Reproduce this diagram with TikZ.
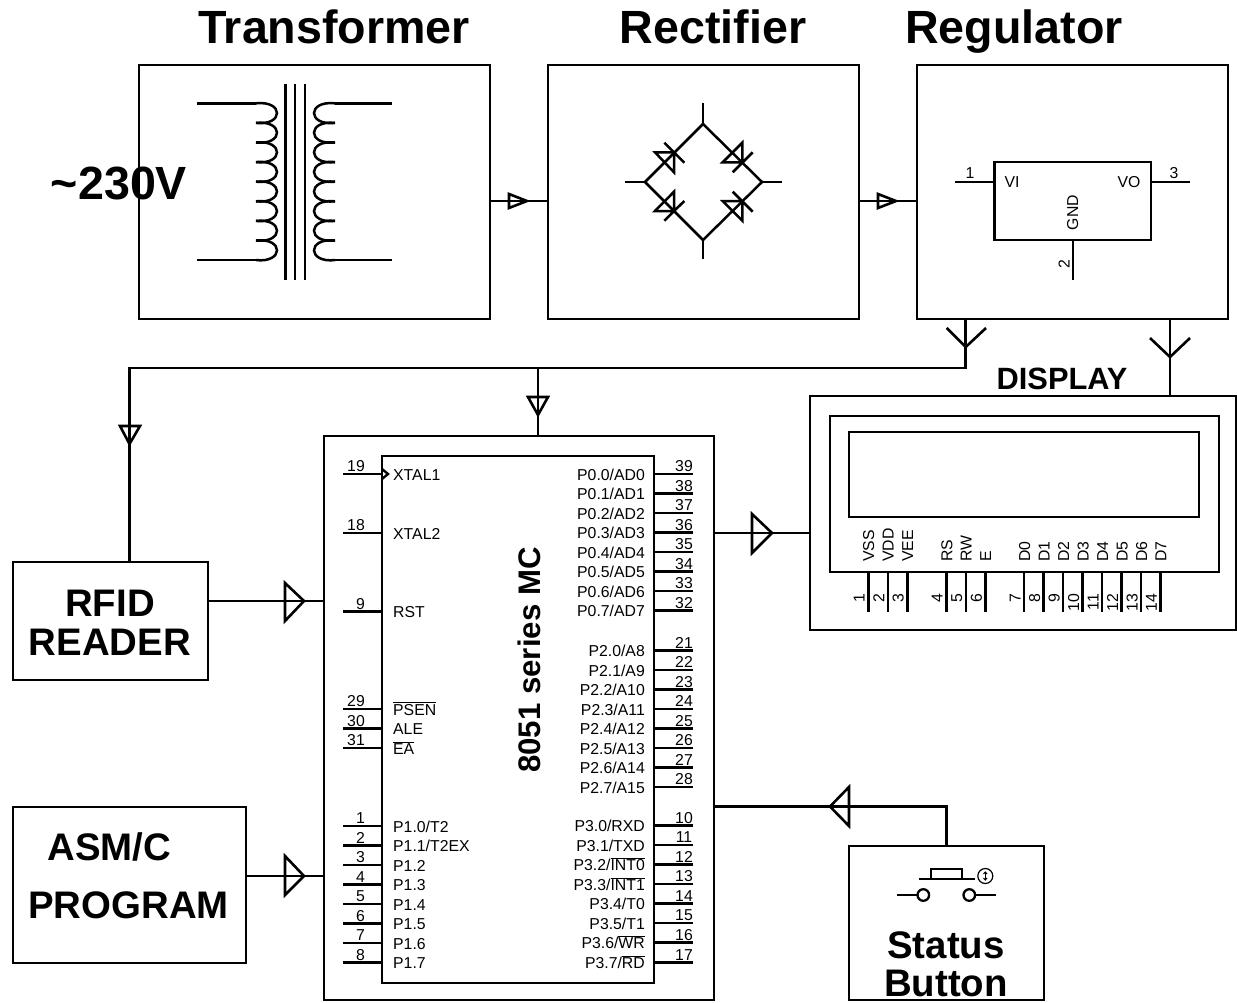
\documentclass[tikz,border=0pt]{standalone}
\usepackage{fontspec}
\setmainfont{Liberation Sans}
\newcommand{\ovl}[1]{$\overline{\mbox{#1}}$}
\tikzset{
  wire/.style={line width=2.6pt},
  box/.style={draw,line width=2.7pt,inner sep=0pt,outer sep=0pt},
  sym/.style={line width=2.5pt},
  lbl/.style={inner sep=0pt,font=\fontsize{15.8}{18}\selectfont},
  title/.style={inner sep=0pt,anchor=base,font=\fontsize{46.6}{50}\selectfont\bfseries},
  mid/.style={inner sep=0pt,anchor=base,font=\fontsize{30.8}{34}\selectfont\bfseries},
  big/.style={inner sep=0pt,anchor=base,font=\fontsize{38.4}{42}\selectfont\bfseries},
  pinL/.style={lbl,anchor=base west},
  pinR/.style={lbl,anchor=base east},
  numL/.style={lbl,anchor=base east},
  numR/.style={lbl,anchor=base}
}
\begin{document}
\begin{tikzpicture}[x=1pt,y=-1pt]
\useasboundingbox (0,0) rectangle (1237,1002);

% --- main boxes
\node[box,minimum width=351pt,minimum height=254pt] (xfmr) at (314.5,192) {};
\node[box,minimum width=311pt,minimum height=254pt] (rect) at (703.5,192) {};
\node[box,minimum width=311pt,minimum height=254pt] (reg) at (1072.5,192) {};
\node[box,minimum width=195pt,minimum height=118pt] (rfid) at (110.5,621) {};
\node[box,minimum width=233pt,minimum height=156pt] (prog) at (129.5,885) {};
\node[box,minimum width=390pt,minimum height=564pt] (mc) at (519,718) {};
\node[box,minimum width=272pt,minimum height=527pt] (mci) at (518,719.5) {};
\node[box,minimum width=426pt,minimum height=234pt] (lcd) at (1023,513) {};
\node[box,minimum width=389pt,minimum height=156pt] (lcdm) at (1024.5,494) {};
\node[box,line width=2pt,minimum width=350pt,minimum height=85pt] (lcds) at (1024,474.5) {};
\node[box,minimum width=195pt,minimum height=154pt] (stat) at (946.5,923) {};

% --- titles and captions
\node[title] (tTr) at (334,43) {Transformer};
\node[title] (tRe) at (713,43) {Rectifier};
\node[title] (tRg) at (1014,43) {Regulator};
\node[title] (tV) at (119,199) {\textasciitilde 230V};
\node[mid] (tD) at (1062,389) {DISPLAY};
\node[big] (tR1) at (110,616.5) {RFID};
\node[big] (tR2) at (110,655.5) {READER};
\node[big] (tA1) at (109.5,860) {ASM/C};
\node[big] (tA2) at (128.5,918) {PROGRAM};
\node[big] (tS1) at (946,958) {Status};
\node[big] (tS2) at (946,996.5) {Button};
\node[inner sep=0pt,rotate=90,font=\fontsize{31.2}{34}\selectfont\bfseries] (tM) at (529.5,660) {8051 series MC};

% --- transformer symbol
\foreach \x in {285.3,295,305} \draw[sym] (\x,84) -- (\x,280);
\draw[sym] (197,103.3) -- (256,103.3);
\draw[sym] (197,260) -- (256,260);
\draw[sym] (335,103.3) -- (392,103.3);
\draw[sym] (335,260) -- (392,260);
\foreach \i in {0,...,7}{
  \pgfmathsetmacro{\ya}{103.3+19.6*\i}
  \pgfmathsetmacro{\yb}{\ya+19.6}
  \draw[sym] (256,\ya) .. controls (284,\ya-3) and (284,\yb+3) .. (256,\yb);
  \draw[sym] (335,\ya) .. controls (307,\ya-3) and (307,\yb+3) .. (335,\yb);
}

% --- bridge rectifier symbol
\draw[sym,line join=miter] (703,124) -- (645,182) -- (703,240) -- (762,182) -- cycle;
\draw[sym] (703,103) -- (703,124) (703,240) -- (703,259) (625,182) -- (645,182) (762,182) -- (782,182);
\draw[sym] (655,152.3) -- (674,152.3) -- (674,172.3) -- cycle (664.3,142.7) -- (684.3,162.7);
\draw[sym] (742.3,142.7) -- (742.3,162.3) -- (722.7,162.3) -- cycle (732.7,172.3) -- (752.7,152.3);
\draw[sym] (674,191.7) -- (674,211) -- (655,211) -- cycle (664.3,220.7) -- (684.3,201);
\draw[sym] (722.7,201) -- (742.3,201) -- (742.3,220.7) -- cycle (732.7,191.7) -- (752.7,211.7);

% --- regulator symbol
\node[box,line width=2.3pt,minimum width=156.5pt,minimum height=78pt] (ic) at (1072.8,201) {};
\draw[sym] (955,182) -- (ic.west |- 0,182);
\draw[sym] (ic.east |- 0,182) -- (1190,182);
\draw[sym] (ic.south) -- ++(0,40);
\node[lbl] (ic1) at (970,173) {1};
\node[lbl] (ic3) at (1174,173) {3};
\node[lbl] (icVI) at (1012,182.5) {VI};
\node[lbl] (icVO) at (1129,182.5) {VO};
\node[lbl,rotate=90] (icG) at (1072.7,212.7) {GND};
\node[lbl,rotate=90] (ic2) at (1064,264) {2};

% --- connectors
\draw[wire] ([yshift=-9pt]xfmr.east) -- ([yshift=-9pt]rect.west);
\draw[wire,line join=miter] (509,194) -- (527,201) -- (509,208) -- cycle;
\draw[wire] ([yshift=-9pt]rect.east) -- ([yshift=-9pt]reg.west);
\draw[wire,line join=miter] (878,194) -- (896,201) -- (878,208) -- cycle;

\coordinate (jA) at (965.7,368);
\coordinate (jB) at (538,368);
\coordinate (jC) at (129.5,368);
\coordinate (jD) at (1170,368);
\draw[wire,line join=miter] (reg.south -| jA) -- (jA) -- (jC) -- (rfid.north -| jC);
\draw[wire] (jB) -- (mc.north -| jB);
\draw[wire] (reg.south -| jD) -- (lcd.north -| jD);
\draw[wire,line join=miter] (946.7,328) -- (965.7,347) -- (986,328);
\draw[wire,line join=miter] (1150,338) -- (1170,357) -- (1190,338);
\draw[wire,line join=miter] (120,426) -- (140,426) -- (129.5,444) -- cycle;
\draw[wire,line join=miter] (528,397) -- (548,397) -- (538,415) -- cycle;

\coordinate (jE) at (0,601);
\draw[wire] (rfid.east |- jE) -- (mc.west |- jE);
\draw[wire,line join=miter] (285,583) -- (304,601) -- (285,621) -- cycle;
\coordinate (jF) at (0,876);
\draw[wire] (prog.east |- jF) -- (mc.west |- jF);
\draw[wire,line join=miter] (285,856) -- (304,876) -- (285,895) -- cycle;
\coordinate (jG) at (0,533);
\draw[wire] (mc.east |- jG) -- (lcd.west |- jG);
\draw[wire,line join=miter] (752,514) -- (772,533) -- (752,553) -- cycle;
\coordinate (jH) at (946.7,806.5);
\draw[wire,line join=miter] (stat.north -| jH) -- (jH) -- (mc.east |- jH);
\draw[wire,line join=miter] (849,787) -- (830,806.5) -- (849,826) -- cycle;

% --- left pins of the controller
\foreach \n/\t/\y in {19/XTAL1/474,18/XTAL2/533,9/RST/611.5,29/\ovl{PSEN}/709,30/ALE/728.5,31/\ovl{EA}/748,
  1/{P1.0/T2}/826,2/{P1.1/T2EX}/845.5,3/P1.2/865,4/P1.3/884.5,5/P1.4/904,6/P1.5/923.5,7/P1.6/943,8/P1.7/962.5}{
  \draw[sym] (343,\y) -- (mci.west |- 0,\y);
  \node[numL] (pn\n) at (365,\y-2.5) {\n};
  \node[pinL] (pl\n) at (393,\y+6) {\t};
}
\draw[line width=2.4pt,line join=miter] (382,469) -- (388,474) -- (382,479);

% --- right pins of the controller
\foreach \n/\t/\y in {39/{P0.0/AD0}/474,38/{P0.1/AD1}/493.5,37/{P0.2/AD2}/513,36/{P0.3/AD3}/532.5,
  35/{P0.4/AD4}/552,34/{P0.5/AD5}/571.5,33/{P0.6/AD6}/591,32/{P0.7/AD7}/610.5,
  21/{P2.0/A8}/650.5,22/{P2.1/A9}/670,23/{P2.2/A10}/689.5,24/{P2.3/A11}/709,
  25/{P2.4/A12}/728.5,26/{P2.5/A13}/748,27/{P2.6/A14}/767.5,28/{P2.7/A15}/787,
  10/{P3.0/RXD}/825.5,11/{P3.1/TXD}/845,12/{P3.2/\ovl{INT0}}/864.5,13/{P3.3/\ovl{INT1}}/884,
  14/{P3.4/T0}/903.5,15/{P3.5/T1}/923,16/{P3.6/\ovl{WR}}/942.5,17/{P3.7/\ovl{RD}}/962.5}{
  \draw[sym] (mci.east |- 0,\y) -- (693,\y);
  \node[numR] (pn\n) at (684,\y-2.5) {\n};
  \node[pinR] (pl\n) at (645,\y+6) {\t};
}

% --- LCD pins
\foreach \n/\t/\x in {1/VSS/868.3,2/VDD/887.8,3/VEE/907.3,4/RS/946.3,5/RW/965.8,6/E/985.3,
  7/D0/1024.2,8/D1/1043.7,9/D2/1063.2,10/D3/1082.7,11/D4/1102.2,12/D5/1121.7,13/D6/1141.2,14/D7/1160.5}{
  \draw[sym] (\x,572) -- (\x,612);
  \node[lbl,rotate=90,anchor=west] (ln\n) at (\x+0.5,562) {\t};
  \node[lbl,rotate=90,anchor=east] (lp\n) at (\x-9,593.5) {\n};
}

% --- push button symbol
\draw[line width=2.3pt] (919,879.3) -- (975,879.3);
\draw[line width=2.3pt] (930.7,879.3) -- (930.7,869) -- (962.3,869) -- (962.3,879.3);
\draw[line width=2.3pt] (923.3,895) circle (5.8);
\draw[line width=2.3pt] (969.3,895) circle (5.8);
\draw[line width=2.3pt] (897,895) -- (917.5,895) (975.1,895) -- (996,895);
\draw[line width=1.2pt] (985.3,876) circle (7.5);
\draw[line width=1.4pt] (985.3,872.5) -- (985.3,879.5);
\draw[line width=1pt] (983.5,874) -- (985.3,872) -- (987.1,874) (983.5,878) -- (985.3,880) -- (987.1,878);
\end{tikzpicture}
\end{document}
